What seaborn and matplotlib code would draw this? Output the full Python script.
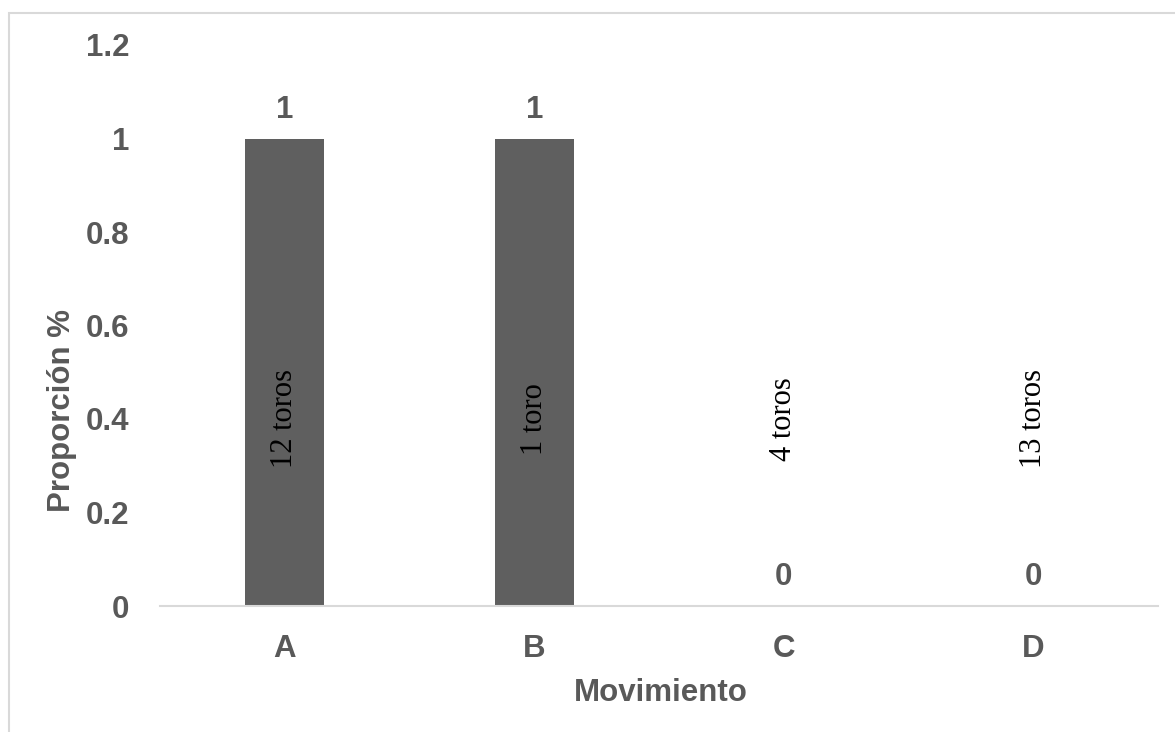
import matplotlib
matplotlib.use("Agg")
import matplotlib.pyplot as plt
import seaborn as sns
import pandas as pd
from matplotlib.patches import Rectangle

# Data
categories = ["A", "B", "C", "D"]
proportions = [1, 1, 0, 0]
bull_counts = ["12 toros", "1 toro", "4 toros", "13 toros"]
y_ticks = [0, 0.2, 0.4, 0.6, 0.8, 1.0, 1.2]
y_tick_labels = ["0", "0.2", "0.4", "0.6", "0.8", "1", "1.2"]

sns.set_theme(style="white")
plt.rcParams["font.family"] = ["Liberation Sans", "DejaVu Sans"]

GRAY = "#595959"
BAR = "#5f5f5f"
FS = 22.5

df = pd.DataFrame({"Movimiento": categories, "Proporcion": proportions})

fig = plt.figure(figsize=(11.75, 7.32), dpi=100)
ax = fig.add_axes([160 / 1175, 1 - 606 / 732, (1158 - 160) / 1175, (606 - 45) / 732])

sns.barplot(data=df, x="Movimiento", y="Proporcion", color=BAR, width=0.316,
            saturation=1, ax=ax, edgecolor="none")

ax.set_xlim(-0.5, 3.5)
ax.set_ylim(0, 1.2)
ax.set_yticks(y_ticks)
ax.set_yticklabels(y_tick_labels)
ax.tick_params(axis="y", length=0, pad=22, labelsize=FS, labelcolor=GRAY)
ax.tick_params(axis="x", length=0, pad=20, labelsize=FS, labelcolor=GRAY)
for lbl in ax.get_xticklabels() + ax.get_yticklabels():
    lbl.set_fontweight("bold")

for side in ["top", "right", "left"]:
    ax.spines[side].set_visible(False)
ax.spines["bottom"].set_color("#d9d9d9")
ax.spines["bottom"].set_linewidth(1.5)
ax.grid(False)

ax.set_xlabel("")
ax.set_ylabel("")
fig.text(661 / 1175, 1 - 693 / 732, "Movimiento", ha="center", va="center",
         fontsize=FS, fontweight="bold", color=GRAY)
fig.text(62 / 1175, 1 - 411 / 732, "Proporción %", ha="center", va="center",
         rotation=90, fontsize=FS, fontweight="bold", color=GRAY)

# Value labels above each bar
for i, v in enumerate(proportions):
    ax.annotate(f"{v:g}", xy=(i, v), xytext=(0, 14), textcoords="offset pixels",
                ha="center", va="bottom", fontsize=FS, fontweight="bold", color=GRAY)

# Number of bulls, written vertically across the middle
for i, txt in enumerate(bull_counts):
    ax.text(i, 0.40, txt, rotation=90, ha="center", va="center",
            fontsize=22, color="black", family=["Liberation Serif", "DejaVu Serif"])

# Chart-area frame
fig.patches.append(Rectangle((9 / 1175, -0.05), 1.2, 1 - 13 / 732 + 0.05,
                             transform=fig.transFigure, fill=False,
                             edgecolor="#d9d9d9", linewidth=1.5, zorder=0))

fig.savefig("out.png", dpi=100, facecolor="white")
